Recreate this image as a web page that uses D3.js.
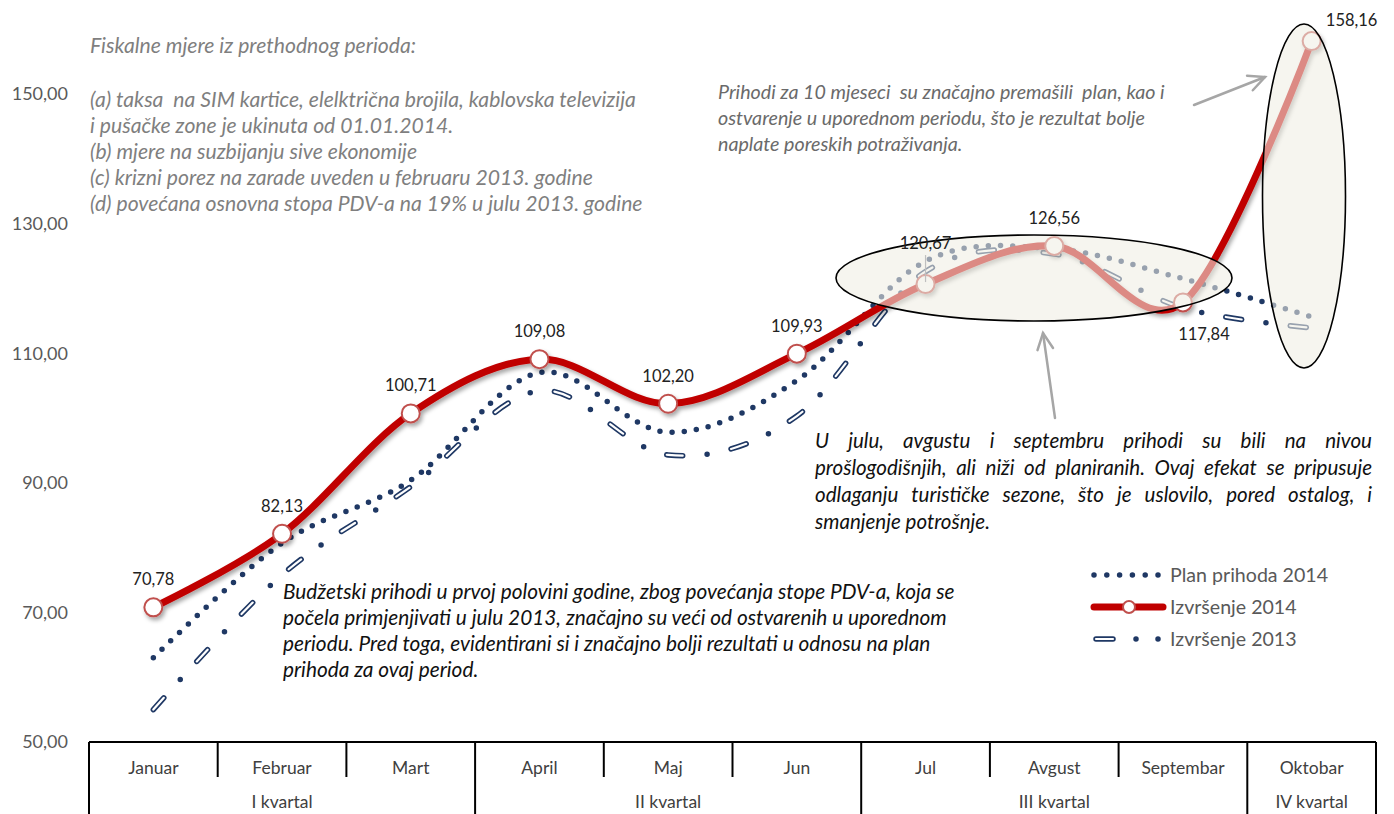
<!DOCTYPE html>
<html>
<head>
<meta charset="utf-8">
<script src="https://cdn.jsdelivr.net/npm/d3@7"></script>
<style>
  html, body { margin: 0; padding: 0; background: #fff; }
  svg { display: block; font-family: Lato, "Open Sans", sans-serif; }
</style>
</head>
<body>
<svg id="chart" width="1394" height="814"></svg>
<script>
// ---------- DATA ----------
const months = ["Januar","Februar","Mart","April","Maj","Jun","Jul","Avgust","Septembar","Oktobar"];
const quarters = ["I kvartal","II kvartal","III kvartal","IV kvartal"];
const quarterSpans = [3,3,3,1];
const plan2014 = [63.0, 80.7, 90.4, 107.0, 97.8, 105.8, 124.2, 126.1, 121.5, 115.6];
const izvrsenje2014 = [70.78, 82.13, 100.71, 109.08, 102.20, 109.93, 120.67, 126.56, 117.84, 158.16];
const izvrsenje2013 = [55.0, 75.8, 89.4, 104.2, 94.3, 100.3, 122.6, 125.3, 117.0, 113.9];
const yTicks = [50, 70, 90, 110, 130, 150];
const seriesNames = ["Plan prihoda 2014", "Izvršenje 2014", "Izvršenje 2013"];

const noteTopLeft = [
  "Fiskalne mjere iz prethodnog perioda:",
  "",
  "(a) taksa  na SIM kartice, elelktrična brojila, kablovska televizija",
  "i pušačke zone je ukinuta od 01.01.2014.",
  "(b) mjere na suzbijanju sive ekonomije",
  "(c) krizni porez na zarade uveden u februaru 2013. godine",
  "(d) povećana osnovna stopa PDV-a na 19% u julu 2013. godine"
];
const noteTopRight = [
  "Prihodi za 10 mjeseci  su značajno premašili  plan, kao i",
  "ostvarenje u uporednom periodu, što je rezultat bolje",
  "naplate poreskih potraživanja."
];
const noteMiddle = [
  "U julu, avgustu i septembru prihodi su bili na nivou",
  "prošlogodišnjih, ali niži od planiranih. Ovaj efekat se pripusuje",
  "odlaganju turističke sezone, što je uslovilo, pored ostalog, i",
  "smanjenje potrošnje."
];
const noteBottom = [
  "Budžetski prihodi u prvoj polovini godine, zbog povećanja stope PDV-a, koja se",
  "počela primjenjivati u julu 2013, značajno su veći od ostvarenih u uporednom",
  "periodu. Pred toga, evidentirani si i značajno bolji rezultati u odnosu na plan",
  "prihoda za ovaj period."
];

// ---------- LAYOUT ----------
const svg = d3.select("#chart");
const x = d3.scaleBand().domain(months).range([89, 1376]).padding(0);
const y = d3.scaleLinear().domain([50, 150]).range([742, 94]);
const cx = m => x(m) + x.bandwidth() / 2;

const RED = "#C00000", NAVY = "#1F3864", MARK = "#C0504D";
const fmt = v => d3.format(".2f")(v).replace(".", ",");

const defs = svg.append("defs");
const sh = defs.append("filter").attr("id", "shadow").attr("x", "-20%").attr("y", "-20%").attr("width", "140%").attr("height", "140%");
sh.append("feDropShadow").attr("dx", 2).attr("dy", 3).attr("stdDeviation", 2)
  .attr("flood-color", "#000").attr("flood-opacity", 0.35);

// Y axis labels
svg.append("g").selectAll("text").data(yTicks).join("text")
  .attr("x", 68).attr("y", d => y(d)).attr("dy", "0.35em")
  .attr("text-anchor", "end").attr("fill", "#595959").attr("font-size", 18)
  .text(d => fmt(d));

// X axis (table style)
const axisG = svg.append("g").attr("stroke", "#000").attr("stroke-width", 2);
const [x0, x1] = x.range();
axisG.append("line").attr("x1", x0).attr("x2", x1).attr("y1", 742).attr("y2", 742);
const qBounds = new Set();
let acc = 0;
quarterSpans.forEach(s => { qBounds.add(acc); acc += s; qBounds.add(acc); });
d3.range(months.length + 1).forEach(i => {
  const bx = x0 + i * x.bandwidth();
  axisG.append("line").attr("x1", bx).attr("x2", bx).attr("y1", 742)
    .attr("y2", qBounds.has(i) ? 814 : 777);
});
svg.append("g").selectAll("text").data(months).join("text")
  .attr("x", d => cx(d)).attr("y", 774).attr("text-anchor", "middle")
  .attr("fill", "#404040").attr("font-size", 17.5).text(d => d);
acc = 0;
const qData = quarterSpans.map((s, i) => { const o = { name: quarters[i], start: acc, span: s }; acc += s; return o; });
svg.append("g").selectAll("text").data(qData).join("text")
  .attr("x", d => x0 + (d.start + d.span / 2) * x.bandwidth()).attr("y", 808)
  .attr("text-anchor", "middle").attr("fill", "#404040").attr("font-size", 17.5).text(d => d.name);

// ---------- LINES ----------
const line = d3.line().x((d, i) => cx(months[i])).y(d => y(d)).curve(d3.curveCardinal.tension(0));

// Plan 2014 - round dots
svg.append("path").attr("d", line(plan2014)).attr("fill", "none")
  .attr("stroke", NAVY).attr("stroke-width", 5.5).attr("stroke-linecap", "round")
  .attr("stroke-dasharray", "0 12.2");

// Izvrsenje 2013 - hollow dash + dot
const p13 = line(izvrsenje2013);
svg.append("path").attr("d", p13).attr("fill", "none")
  .attr("stroke", NAVY).attr("stroke-width", 5.5).attr("stroke-linecap", "round")
  .attr("stroke-dasharray", "16 24.5 0 24.5");
svg.append("path").attr("d", p13).attr("fill", "none")
  .attr("stroke", "#fff").attr("stroke-width", 2.2).attr("stroke-linecap", "round")
  .attr("stroke-dasharray", "16 49");

// Izvrsenje 2014 - thick red with markers
const redG = svg.append("g").attr("filter", "url(#shadow)");
redG.append("path").attr("d", line(izvrsenje2014)).attr("fill", "none")
  .attr("stroke", RED).attr("stroke-width", 7).attr("stroke-linecap", "round");
redG.selectAll("circle").data(izvrsenje2014).join("circle")
  .attr("cx", (d, i) => cx(months[i])).attr("cy", d => y(d)).attr("r", 9)
  .attr("fill", "#fff").attr("stroke", MARK).attr("stroke-width", 2);

// ---------- ELLIPSES (semi-transparent overlay) ----------
svg.append("ellipse").attr("cx", 1034).attr("cy", 278).attr("rx", 198).attr("ry", 43)
  .attr("fill", "rgba(240,237,228,0.58)").attr("stroke", "#000").attr("stroke-width", 1.6);
svg.append("ellipse").attr("cx", 1304).attr("cy", 196).attr("rx", 41.5).attr("ry", 172)
  .attr("fill", "rgba(240,237,228,0.58)").attr("stroke", "#000").attr("stroke-width", 1.6);

// ---------- DATA LABELS ----------
const labelPlace = { 6: { dx: 0, dy: -35, leader: true }, 8: { dx: 21, dy: 38 }, 9: { dx: 40, dy: -15 } };
izvrsenje2014.forEach((v, i) => {
  const px = cx(months[i]), py = y(v);
  const p = labelPlace[i] || { dx: 0, dy: -22 };
  if (p.leader) {
    svg.append("line").attr("x1", px).attr("x2", px).attr("y1", py + p.dy + 6).attr("y2", py - 2)
      .attr("stroke", "#BFBFBF").attr("stroke-width", 1.2);
  }
  svg.append("text").attr("x", px + p.dx).attr("y", py + p.dy)
    .attr("text-anchor", "middle").attr("fill", "#222").attr("font-size", 16.5).text(fmt(v));
});

// ---------- ANNOTATIONS ----------
// size a block so that its widest line spans the given width
function fitSize(lines, width) {
  const probe = svg.append("text").attr("font-style", "italic").attr("font-size", 20).attr("xml:space", "preserve");
  let mx = 0;
  lines.forEach(t => { probe.text(t); mx = Math.max(mx, probe.node().getComputedTextLength()); });
  probe.remove();
  return 20 * width / mx;
}
function block(lines, x0, yFirst, lh, color, size) {
  const g = svg.append("g").attr("font-style", "italic").attr("fill", color).attr("font-size", size);
  lines.forEach((t, i) => g.append("text").attr("x", x0).attr("y", yFirst + i * lh).attr("xml:space", "preserve").text(t));
  return g;
}
const sTL = fitSize([noteTopLeft[2]], 546);
block([noteTopLeft[0]], 90, 53, 26, "#7F7F7F", sTL);
block(noteTopLeft.slice(2), 90, 107, 26, "#7F7F7F", sTL);
block(noteTopRight, 718, 99, 26, "#6A6A6A", fitSize([noteTopRight[0]], 447));
block(noteBottom, 283, 599, 26, "#111", fitSize([noteBottom[0]], 672));

// justified middle block
(function () {
  const size = fitSize([noteMiddle[3]], 175);
  const g = svg.append("g").attr("font-style", "italic").attr("fill", "#111").attr("font-size", size);
  const left = 815, right = 1372, top = 448, lh = 27;
  noteMiddle.forEach((t, li) => {
    const words = t.split(" ");
    const yy = top + li * lh;
    if (li === noteMiddle.length - 1) {
      g.append("text").attr("x", left).attr("y", yy).text(t);
      return;
    }
    const nodes = words.map(w => g.append("text").attr("y", yy).text(w));
    const widths = nodes.map(n => n.node().getComputedTextLength());
    const total = d3.sum(widths);
    const gap = (right - left - total) / (words.length - 1);
    let xx = left;
    nodes.forEach((n, k) => { n.attr("x", xx); xx += widths[k] + gap; });
  });
})();

// arrows
function arrow(xA, yA, xB, yB) {
  const g = svg.append("g").attr("stroke", "#A6A6A6").attr("stroke-width", 2.5).attr("fill", "none").attr("stroke-linecap", "round");
  g.append("line").attr("x1", xA).attr("y1", yA).attr("x2", xB).attr("y2", yB);
  const a = Math.atan2(yB - yA, xB - xA), L = 18, w = 0.45;
  g.append("path").attr("d",
    `M${xB - L * Math.cos(a - w)},${yB - L * Math.sin(a - w)} L${xB},${yB} L${xB - L * Math.cos(a + w)},${yB - L * Math.sin(a + w)}`);
}
arrow(1194, 105, 1265, 77);
arrow(1055, 418, 1043, 333);

// ---------- LEGEND ----------
const lg = svg.append("g");
const ly = [575, 607, 639];
lg.append("line").attr("x1", 1094).attr("x2", 1160).attr("y1", ly[0]).attr("y2", ly[0])
  .attr("stroke", NAVY).attr("stroke-width", 5.5).attr("stroke-linecap", "round").attr("stroke-dasharray", "0 12.8");
lg.append("line").attr("x1", 1094).attr("x2", 1163).attr("y1", ly[1]).attr("y2", ly[1])
  .attr("stroke", RED).attr("stroke-width", 7).attr("stroke-linecap", "round");
lg.append("circle").attr("cx", 1129).attr("cy", ly[1]).attr("r", 6).attr("fill", "#fff").attr("stroke", MARK).attr("stroke-width", 2);
lg.append("line").attr("x1", 1096).attr("x2", 1161).attr("y1", ly[2]).attr("y2", ly[2])
  .attr("stroke", NAVY).attr("stroke-width", 5.5).attr("stroke-linecap", "round").attr("stroke-dasharray", "17 23 0 22 0 10");
lg.append("line").attr("x1", 1096).attr("x2", 1113).attr("y1", ly[2]).attr("y2", ly[2])
  .attr("stroke", "#fff").attr("stroke-width", 2.2).attr("stroke-linecap", "round");
lg.selectAll("text").data(seriesNames).join("text")
  .attr("x", 1170).attr("y", (d, i) => ly[i]).attr("dy", "0.35em")
  .attr("fill", "#595959").attr("font-size", 19.6).text(d => d);
</script>
</body>
</html>
